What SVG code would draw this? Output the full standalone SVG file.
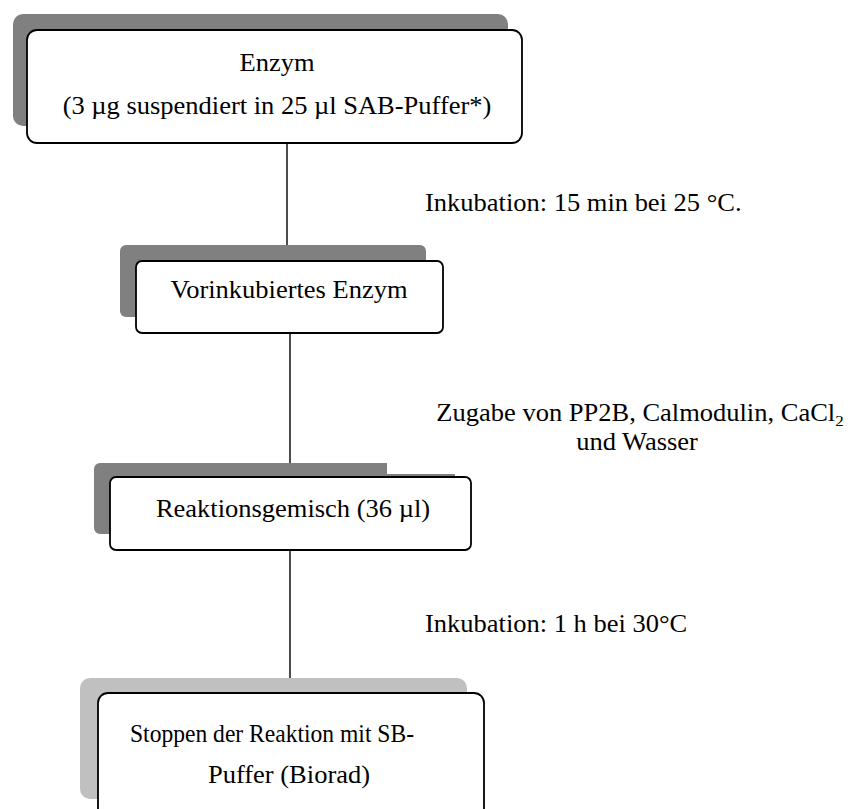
<svg xmlns="http://www.w3.org/2000/svg" width="850" height="809" viewBox="0 0 850 809">
<style>
.t{font-family:"Liberation Serif","Times New Roman",serif;font-size:26.5px;fill:#000}
.box{fill:#fff;stroke:#000;stroke-width:1.8}
.sh{fill:#808080}
.shl{fill:#c0c0c0}
.c{stroke:#000;stroke-width:1.4;fill:none}
</style>
<rect width="850" height="809" fill="#fff"/>
<g id="connectors">
<line class="c" x1="287" y1="143" x2="287" y2="246"/>
<line class="c" x1="290" y1="333" x2="290" y2="464"/>
<line class="c" x1="290" y1="550" x2="290" y2="679"/>
</g>
<g id="node-enzym">
<rect class="sh" x="13" y="14" width="495" height="112" rx="10"/>
<rect class="box" x="27" y="30" width="495" height="113" rx="10"/>
<text class="t" text-anchor="middle" transform="translate(277,71) scale(1,0.95)">Enzym</text>
<text class="t" text-anchor="middle" transform="translate(277,114) scale(1,0.95)">(3 µg suspendiert in 25 µl SAB-Puffer*)</text>
</g>
<g id="label-1">
<text class="t" transform="translate(425,211) scale(1,0.95)">Inkubation: 15 min bei 25 °C.</text>
</g>
<g id="node-vorinkubiert">
<rect class="sh" x="120" y="245" width="306" height="72" rx="6"/>
<rect class="box" x="136" y="261" width="307" height="72" rx="6"/>
<text class="t" text-anchor="middle" transform="translate(289,298) scale(1,0.95)">Vorinkubiertes Enzym</text>
</g>
<g id="label-2">
<text class="t" text-anchor="middle" transform="translate(640,421) scale(1,0.92)">Zugabe von PP2B, Calmodulin, CaCl<tspan font-size="17" dy="5">2</tspan></text>
<text class="t" text-anchor="middle" transform="translate(637,450) scale(1,0.92)">und Wasser</text>
</g>
<g id="node-reaktion">
<path class="sh" d="M100,463 H387 V474 H455 V534 H100 A6,6 0 0 1 94,528 V469 A6,6 0 0 1 100,463 Z"/>
<rect class="box" x="110" y="477" width="361" height="73" rx="6"/>
<text class="t" text-anchor="middle" transform="translate(293,517) scale(1,0.95)">Reaktionsgemisch (36 µl)</text>
</g>
<g id="label-3">
<text class="t" transform="translate(425,632) scale(1,0.95)">Inkubation: 1 h bei 30°C</text>
</g>
<g id="node-stoppen">
<rect class="shl" x="80" y="678" width="387" height="121" rx="10"/>
<rect class="box" x="98" y="693" width="386" height="130" rx="10"/>
<text class="t" x="130" textLength="284" lengthAdjust="spacingAndGlyphs" transform="translate(0,742) scale(1,0.95)">Stoppen der Reaktion mit SB-</text>
<text class="t" text-anchor="middle" transform="translate(289,783) scale(1,0.95)">Puffer (Biorad)</text>
</g>
</svg>
